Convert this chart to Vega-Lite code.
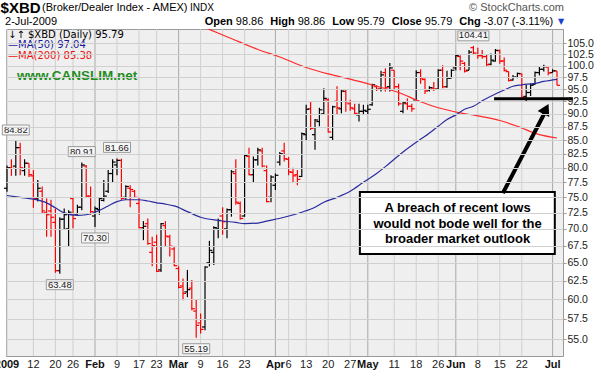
{
  "$schema": "https://vega.github.io/schema/vega-lite/v6.json",
  "autosize": "none",
  "width": 557,
  "height": 327,
  "padding": {"left": 6, "top": 29, "right": 38, "bottom": 22},
  "background": "white",
  "config": {
    "view": {"fill": "#efefef", "stroke": "#999999", "strokeWidth": 1},
    "text": {"font": "Liberation Sans"},
    "axis": {"domain": false, "labelFlush": false, "labelBound": false, "labelFont": "Liberation Sans", "labelColor": "#222222"},
    "axisX": {"ticks": false, "labels": false, "grid": false},
    "axisY": {"grid": true, "gridColor": "#d0d0d0", "zindex": 1, "ticks": true, "tickSize": 3, "tickColor": "#999999", "labelFontSize": 10.5, "labelPadding": 1}
  },
  "datasets": {
    "gx": [{"i":0},{"i":6},{"i":11},{"i":15},{"i":25},{"i":30},{"i":34},{"i":44},{"i":49},{"i":54},{"i":64},{"i":68},{"i":73},{"i":78},{"i":88},{"i":93},{"i":98},{"i":107},{"i":112},{"i":117}],
    "gm": [{"i":20},{"i":39},{"i":61},{"i":82},{"i":102},{"i":124}],
    "xlr": [
      {"i":6,"t":"12"},{"i":11,"t":"20"},{"i":15,"t":"26"},{"i":25,"t":"9"},{"i":30,"t":"17"},{"i":34,"t":"23"},
      {"i":44,"t":"9"},{"i":49,"t":"16"},{"i":54,"t":"23"},{"i":64,"t":"6"},{"i":68,"t":"13"},{"i":73,"t":"20"},
      {"i":78,"t":"27"},{"i":88,"t":"11"},{"i":93,"t":"18"},{"i":98,"t":"26"},{"i":107,"t":"8"},{"i":112,"t":"15"},{"i":117,"t":"22"}
    ],
    "xlb": [
      {"i":0,"t":"2009"},{"i":20,"t":"Feb"},{"i":39,"t":"Mar"},{"i":61,"t":"Apr"},{"i":82,"t":"May"},{"i":102,"t":"Jun"},{"i":124,"t":"Jul"}
    ],
    "ohlc": [
      {"i":0,"o":76.5,"h":80.4,"l":75.9,"c":80.0,"dir":"up"},
      {"i":1,"o":80.0,"h":81.5,"l":78.6,"c":79.9,"dir":"down"},
      {"i":2,"o":80.3,"h":84.82,"l":78.6,"c":83.6,"dir":"up"},
      {"i":3,"o":83.6,"h":84.5,"l":78.7,"c":80.0,"dir":"down"},
      {"i":4,"o":79.5,"h":81.5,"l":78.6,"c":80.8,"dir":"up"},
      {"i":5,"o":80.8,"h":80.8,"l":78.4,"c":78.8,"dir":"down"},
      {"i":6,"o":78.6,"h":79.6,"l":73.3,"c":74.8,"dir":"down"},
      {"i":7,"o":74.8,"h":77.9,"l":74.3,"c":76.5,"dir":"up"},
      {"i":8,"o":76.0,"h":76.8,"l":72.3,"c":72.8,"dir":"down"},
      {"i":9,"o":72.5,"h":74.8,"l":68.8,"c":72.2,"dir":"down"},
      {"i":10,"o":72.8,"h":74.6,"l":68.8,"c":71.8,"dir":"down"},
      {"i":11,"o":71.0,"h":73.2,"l":63.6,"c":63.9,"dir":"down"},
      {"i":12,"o":63.9,"h":71.8,"l":63.48,"c":71.5,"dir":"up"},
      {"i":13,"o":71.5,"h":73.2,"l":70.0,"c":72.2,"dir":"up"},
      {"i":14,"o":70.0,"h":72.9,"l":67.3,"c":72.6,"dir":"up"},
      {"i":15,"o":74.8,"h":75.0,"l":70.1,"c":71.6,"dir":"down"},
      {"i":16,"o":72.3,"h":73.8,"l":72.2,"c":73.4,"dir":"up"},
      {"i":17,"o":73.4,"h":80.91,"l":72.9,"c":80.5,"dir":"up"},
      {"i":18,"o":80.3,"h":80.5,"l":75.0,"c":75.2,"dir":"down"},
      {"i":19,"o":75.2,"h":76.8,"l":72.2,"c":72.7,"dir":"down"},
      {"i":20,"o":72.0,"h":73.5,"l":70.3,"c":73.2,"dir":"up"},
      {"i":21,"o":73.0,"h":75.0,"l":72.2,"c":74.8,"dir":"up"},
      {"i":22,"o":74.5,"h":77.9,"l":74.3,"c":75.2,"dir":"up"},
      {"i":23,"o":76.0,"h":79.6,"l":75.7,"c":79.0,"dir":"up"},
      {"i":24,"o":79.0,"h":81.5,"l":77.5,"c":81.0,"dir":"up"},
      {"i":25,"o":80.5,"h":81.66,"l":78.7,"c":81.3,"dir":"up"},
      {"i":26,"o":81.3,"h":81.6,"l":74.6,"c":74.8,"dir":"down"},
      {"i":27,"o":75.0,"h":77.0,"l":74.6,"c":76.8,"dir":"up"},
      {"i":28,"o":76.5,"h":77.0,"l":73.4,"c":76.3,"dir":"down"},
      {"i":29,"o":76.0,"h":76.2,"l":74.9,"c":75.0,"dir":"down"},
      {"i":30,"o":74.0,"h":75.0,"l":70.1,"c":70.2,"dir":"down"},
      {"i":31,"o":70.2,"h":71.2,"l":68.3,"c":70.4,"dir":"up"},
      {"i":32,"o":70.8,"h":71.6,"l":67.6,"c":67.8,"dir":"down"},
      {"i":33,"o":66.5,"h":68.8,"l":64.5,"c":67.5,"dir":"down"},
      {"i":34,"o":68.0,"h":69.1,"l":63.7,"c":63.8,"dir":"down"},
      {"i":35,"o":64.0,"h":70.9,"l":63.7,"c":70.8,"dir":"up"},
      {"i":36,"o":70.5,"h":71.2,"l":67.4,"c":68.9,"dir":"down"},
      {"i":37,"o":68.8,"h":69.1,"l":65.9,"c":67.4,"dir":"down"},
      {"i":38,"o":67.0,"h":67.4,"l":64.5,"c":64.6,"dir":"down"},
      {"i":39,"o":64.2,"h":64.5,"l":61.5,"c":61.6,"dir":"down"},
      {"i":40,"o":61.8,"h":62.8,"l":59.9,"c":60.8,"dir":"down"},
      {"i":41,"o":61.0,"h":64.0,"l":60.3,"c":61.3,"dir":"up"},
      {"i":42,"o":61.5,"h":62.6,"l":58.6,"c":58.8,"dir":"down"},
      {"i":43,"o":58.5,"h":60.0,"l":55.19,"c":56.7,"dir":"down"},
      {"i":44,"o":57.0,"h":58.2,"l":55.7,"c":56.2,"dir":"down"},
      {"i":45,"o":56.5,"h":64.5,"l":56.1,"c":64.4,"dir":"up"},
      {"i":46,"o":65.0,"h":68.2,"l":64.5,"c":66.8,"dir":"up"},
      {"i":47,"o":66.5,"h":70.4,"l":64.7,"c":70.2,"dir":"up"},
      {"i":48,"o":70.0,"h":71.6,"l":68.6,"c":71.3,"dir":"up"},
      {"i":49,"o":72.0,"h":73.4,"l":69.1,"c":71.1,"dir":"down"},
      {"i":50,"o":70.0,"h":73.2,"l":68.6,"c":73.0,"dir":"up"},
      {"i":51,"o":73.0,"h":79.6,"l":71.9,"c":79.3,"dir":"up"},
      {"i":52,"o":79.0,"h":81.5,"l":73.8,"c":74.2,"dir":"down"},
      {"i":53,"o":74.0,"h":74.3,"l":71.4,"c":71.6,"dir":"down"},
      {"i":54,"o":72.0,"h":82.4,"l":71.9,"c":82.2,"dir":"up"},
      {"i":55,"o":82.0,"h":83.6,"l":78.7,"c":78.8,"dir":"down"},
      {"i":56,"o":78.8,"h":82.0,"l":77.5,"c":81.4,"dir":"up"},
      {"i":57,"o":81.4,"h":83.6,"l":80.4,"c":83.2,"dir":"up"},
      {"i":58,"o":83.0,"h":83.6,"l":80.1,"c":80.3,"dir":"down"},
      {"i":59,"o":79.5,"h":80.4,"l":74.2,"c":74.3,"dir":"down"},
      {"i":60,"o":75.0,"h":78.7,"l":74.2,"c":78.4,"dir":"up"},
      {"i":61,"o":77.0,"h":79.0,"l":76.2,"c":78.7,"dir":"up"},
      {"i":62,"o":81.0,"h":82.8,"l":80.4,"c":82.5,"dir":"up"},
      {"i":63,"o":83.0,"h":84.5,"l":81.1,"c":81.6,"dir":"down"},
      {"i":64,"o":81.5,"h":81.9,"l":78.7,"c":79.3,"dir":"down"},
      {"i":65,"o":79.2,"h":80.0,"l":77.5,"c":78.6,"dir":"down"},
      {"i":66,"o":78.8,"h":79.6,"l":77.0,"c":78.0,"dir":"down"},
      {"i":67,"o":78.5,"h":86.4,"l":78.4,"c":86.2,"dir":"up"},
      {"i":68,"o":86.0,"h":91.8,"l":84.8,"c":90.9,"dir":"up"},
      {"i":69,"o":91.0,"h":92.4,"l":86.9,"c":87.2,"dir":"down"},
      {"i":70,"o":86.0,"h":89.0,"l":83.2,"c":88.8,"dir":"up"},
      {"i":71,"o":88.5,"h":91.2,"l":87.6,"c":90.8,"dir":"up"},
      {"i":72,"o":90.0,"h":95.2,"l":89.8,"c":93.1,"dir":"up"},
      {"i":73,"o":92.8,"h":93.1,"l":86.4,"c":86.5,"dir":"down"},
      {"i":74,"o":85.5,"h":91.6,"l":85.0,"c":91.4,"dir":"up"},
      {"i":75,"o":92.5,"h":95.6,"l":89.8,"c":91.2,"dir":"down"},
      {"i":76,"o":91.0,"h":94.8,"l":90.1,"c":94.6,"dir":"up"},
      {"i":77,"o":94.5,"h":94.8,"l":90.4,"c":92.4,"dir":"down"},
      {"i":78,"o":92.0,"h":92.8,"l":90.6,"c":91.2,"dir":"down"},
      {"i":79,"o":91.0,"h":92.0,"l":89.8,"c":90.1,"dir":"down"},
      {"i":80,"o":89.8,"h":92.0,"l":88.5,"c":90.5,"dir":"up"},
      {"i":81,"o":90.5,"h":91.8,"l":89.8,"c":90.7,"dir":"up"},
      {"i":82,"o":90.5,"h":91.8,"l":89.9,"c":90.9,"dir":"up"},
      {"i":83,"o":91.8,"h":96.1,"l":91.6,"c":95.9,"dir":"up"},
      {"i":84,"o":95.5,"h":95.8,"l":94.6,"c":95.0,"dir":"down"},
      {"i":85,"o":95.0,"h":98.9,"l":94.5,"c":98.0,"dir":"up"},
      {"i":86,"o":98.5,"h":99.4,"l":94.5,"c":95.3,"dir":"down"},
      {"i":87,"o":95.5,"h":100.6,"l":94.5,"c":99.5,"dir":"up"},
      {"i":88,"o":99.0,"h":99.0,"l":95.0,"c":95.5,"dir":"down"},
      {"i":89,"o":95.5,"h":96.1,"l":91.6,"c":92.0,"dir":"down"},
      {"i":90,"o":90.5,"h":92.3,"l":90.1,"c":92.2,"dir":"up"},
      {"i":91,"o":92.0,"h":93.1,"l":90.8,"c":91.5,"dir":"down"},
      {"i":92,"o":91.5,"h":92.0,"l":90.4,"c":91.0,"dir":"down"},
      {"i":93,"o":92.8,"h":99.0,"l":92.8,"c":98.5,"dir":"up"},
      {"i":94,"o":98.5,"h":99.2,"l":96.1,"c":97.3,"dir":"down"},
      {"i":95,"o":97.0,"h":97.3,"l":94.0,"c":94.6,"dir":"down"},
      {"i":96,"o":94.8,"h":95.6,"l":94.5,"c":95.3,"dir":"up"},
      {"i":97,"o":95.2,"h":96.5,"l":94.6,"c":95.0,"dir":"down"},
      {"i":98,"o":95.0,"h":99.2,"l":94.9,"c":99.0,"dir":"up"},
      {"i":99,"o":99.0,"h":100.1,"l":95.2,"c":95.5,"dir":"down"},
      {"i":100,"o":95.5,"h":98.9,"l":95.3,"c":97.3,"dir":"up"},
      {"i":101,"o":97.3,"h":99.2,"l":97.3,"c":99.0,"dir":"up"},
      {"i":102,"o":99.5,"h":102.5,"l":99.0,"c":102.2,"dir":"up"},
      {"i":103,"o":102.0,"h":102.3,"l":99.0,"c":101.0,"dir":"down"},
      {"i":104,"o":100.5,"h":100.8,"l":98.5,"c":98.8,"dir":"down"},
      {"i":105,"o":99.0,"h":103.5,"l":99.0,"c":103.0,"dir":"up"},
      {"i":106,"o":104.0,"h":104.41,"l":102.4,"c":102.8,"dir":"down"},
      {"i":107,"o":102.5,"h":104.0,"l":101.5,"c":102.2,"dir":"down"},
      {"i":108,"o":102.2,"h":103.5,"l":101.5,"c":102.0,"dir":"down"},
      {"i":109,"o":102.0,"h":102.4,"l":99.7,"c":100.2,"dir":"down"},
      {"i":110,"o":100.3,"h":102.7,"l":100.1,"c":101.2,"dir":"up"},
      {"i":111,"o":101.0,"h":103.7,"l":100.9,"c":103.4,"dir":"up"},
      {"i":112,"o":103.3,"h":103.6,"l":100.4,"c":101.0,"dir":"down"},
      {"i":113,"o":101.0,"h":101.8,"l":98.7,"c":99.0,"dir":"down"},
      {"i":114,"o":98.7,"h":98.7,"l":96.6,"c":96.8,"dir":"down"},
      {"i":115,"o":96.9,"h":98.0,"l":96.8,"c":97.5,"dir":"up"},
      {"i":116,"o":97.5,"h":98.5,"l":97.3,"c":98.3,"dir":"up"},
      {"i":117,"o":98.2,"h":98.3,"l":92.9,"c":93.3,"dir":"down"},
      {"i":118,"o":93.5,"h":95.9,"l":92.4,"c":94.3,"dir":"up"},
      {"i":119,"o":94.3,"h":96.2,"l":93.6,"c":95.8,"dir":"up"},
      {"i":120,"o":96.0,"h":98.7,"l":95.9,"c":98.5,"dir":"up"},
      {"i":121,"o":98.5,"h":99.7,"l":97.9,"c":99.2,"dir":"up"},
      {"i":122,"o":99.2,"h":100.2,"l":98.7,"c":99.8,"dir":"up"},
      {"i":123,"o":99.7,"h":99.9,"l":97.9,"c":98.4,"dir":"down"},
      {"i":124,"o":98.5,"h":99.2,"l":98.5,"c":98.86,"dir":"up"},
      {"i":125,"o":98.86,"h":98.86,"l":95.79,"c":95.79,"dir":"down"}
    ],
    "ma50": [
      {"i":0,"v":75.3},{"i":3,"v":75.0},{"i":6,"v":74.7},{"i":9,"v":74.1},{"i":11,"v":73.3},
      {"i":13,"v":72.5},{"i":16,"v":72.1},{"i":18,"v":72.2},{"i":20,"v":72.6},{"i":23,"v":73.6},
      {"i":25,"v":74.3},{"i":27,"v":74.6},{"i":30,"v":74.6},{"i":32,"v":74.4},{"i":34,"v":74.1},
      {"i":36,"v":73.9},{"i":38,"v":73.6},{"i":41,"v":72.7},{"i":44,"v":71.8},{"i":48,"v":71.3},
      {"i":52,"v":71.0},{"i":54,"v":70.8},{"i":57,"v":70.9},{"i":59,"v":71.2},{"i":63,"v":71.8},
      {"i":67,"v":72.6},{"i":70,"v":73.4},{"i":72,"v":74.2},{"i":75,"v":75.0},{"i":78,"v":76.0},
      {"i":81,"v":77.5},{"i":84,"v":79.0},{"i":86,"v":80.2},{"i":88,"v":81.5},{"i":90,"v":82.8},
      {"i":93,"v":84.6},{"i":95,"v":85.7},{"i":98,"v":87.6},{"i":100,"v":88.9},{"i":102,"v":89.8},
      {"i":104,"v":90.9},{"i":106,"v":91.5},{"i":108,"v":92.6},{"i":111,"v":94.0},{"i":113,"v":94.8},
      {"i":115,"v":95.6},{"i":117,"v":95.9},{"i":120,"v":96.2},{"i":122,"v":96.6},{"i":125,"v":97.04}
    ],
    "ma200": [
      {"i":38,"v":112.5},{"i":45,"v":108.7},{"i":51,"v":106.1},{"i":57,"v":103.6},{"i":62,"v":101.9},
      {"i":68,"v":99.6},{"i":73,"v":98.2},{"i":78,"v":97.1},{"i":84,"v":95.6},{"i":89,"v":94.3},
      {"i":94,"v":92.4},{"i":98,"v":91.2},{"i":103,"v":90.2},{"i":107,"v":89.6},{"i":112,"v":88.7},
      {"i":116,"v":87.6},{"i":121,"v":86.0},{"i":125,"v":85.38}
    ],
    "lbl": [
      {"i":2,"v":84.82,"t":"84.82","pos":"hi"},
      {"i":17,"v":80.91,"t":"80.91","pos":"hi"},
      {"i":25,"v":81.66,"t":"81.66","pos":"hi"},
      {"i":106,"v":104.41,"t":"104.41","pos":"hi6"},
      {"i":12,"v":63.48,"t":"63.48","pos":"lo"},
      {"i":20,"v":70.3,"t":"70.30","pos":"lo"},
      {"i":43,"v":55.19,"t":"55.19","pos":"lo"}
    ],
    "box": [{"i1":80.2,"i2":124.5,"v1":75.87,"v2":66.27}],
    "arrow": [{"i1":112.7,"v1":75.7,"i2":122.3,"v2":90.36}],
    "tip": [{"i":122.5,"v":90.96}],
    "hline": [{"i1":110.7,"i2":128.6,"v":93.0}],
    "txt": [
      {"k":"big","t":"$XBD","i":-1.45,"v":113.4},
      {"k":"hdr","t":"(Broker/Dealer Index - AMEX)","i":7.95,"v":113.4},
      {"k":"indx","t":"INDX","i":41.6,"v":113.4},
      {"k":"sc","t":"© StockCharts.com","i":126.6,"v":113.4},
      {"k":"reg","t":"2-Jul-2009","i":-0.45,"v":110.1},
      {"k":"bold","t":"Open","i":44.93,"v":110.1},
      {"k":"reg","t":"98.86","i":52.0,"v":110.1},
      {"k":"bold","t":"High","i":59.84,"v":110.1},
      {"k":"reg","t":"98.86","i":66.07,"v":110.1},
      {"k":"bold","t":"Low","i":73.91,"v":110.1},
      {"k":"reg","t":"95.79","i":79.59,"v":110.1},
      {"k":"bold","t":"Close","i":87.43,"v":110.1},
      {"k":"reg","t":"95.79","i":94.95,"v":110.1},
      {"k":"bold","t":"Chg","i":102.8,"v":110.1},
      {"k":"reg","t":"-3.07 (-3.11%)","i":108.34,"v":110.1},
      {"k":"tri","t":"▼","i":125.9,"v":110.1},
      {"k":"leg","t":"↓↑ $XBD (Daily) 95.79","i":0.23,"v":106.9},
      {"k":"m50","t":"—MA(50) 97.04","i":0.23,"v":104.5},
      {"k":"m200","t":"—MA(200) 85.38","i":0.23,"v":102.1},
      {"k":"net","t":"www.CANSLIM.net","i":2.27,"v":97.76},
      {"k":"call","t":"A breach of recent lows","i":102.4,"v":73.27},
      {"k":"call","t":"would not bode well for the","i":102.4,"v":70.83},
      {"k":"call","t":"broader market outlook","i":102.4,"v":68.47}
    ]
  },
  "layer": [
    {
      "data": {"name": "gx"},
      "mark": {"type": "tick", "orient": "vertical", "size": 327, "thickness": 1, "color": "#d0d0d0", "opacity": 1},
      "encoding": {
        "x": {"field": "i", "type": "quantitative"},
        "y": {"datum": 75.8, "type": "quantitative"}
      }
    },
    {
      "data": {"name": "gm"},
      "mark": {"type": "tick", "orient": "vertical", "size": 327, "thickness": 1, "color": "#a9a9a9", "opacity": 1},
      "encoding": {
        "x": {"field": "i", "type": "quantitative"},
        "y": {"datum": 75.8, "type": "quantitative"}
      }
    },
    {
      "data": {"name": "ohlc"},
      "mark": {"type": "rule", "strokeWidth": 1.2},
      "encoding": {
        "x": {"field": "i", "type": "quantitative",
          "scale": {"domain": [-0.2273, 126.3636], "nice": false, "zero": false},
          "axis": {"title": null, "domain": false, "ticks": false, "grid": false, "labels": false}
        },
        "y": {"field": "h", "type": "quantitative",
          "scale": {"type": "log", "domain": [53.03, 108.33], "nice": false, "zero": false},
          "axis": {
            "title": null, "orient": "right", "grid": true, "zindex": 1, "gridColor": "#d0d0d0",
            "values": [55,57.5,60,62.5,65,67.5,70,72.5,75,77.5,80,82.5,85,87.5,90,92.5,95,97.5,100,102.5,105],
            "format": ".1f"
          }
        },
        "y2": {"field": "l"},
        "color": {"field": "dir", "type": "nominal", "scale": {"domain": ["up", "down"], "range": ["#000000", "#ff0000"]}, "legend": null}
      }
    },
    {
      "data": {"name": "ohlc"},
      "mark": {"type": "tick", "orient": "horizontal", "size": 3, "thickness": 1.2, "xOffset": -1.5, "opacity": 1},
      "encoding": {
        "x": {"field": "i", "type": "quantitative"},
        "y": {"field": "o", "type": "quantitative"},
        "color": {"field": "dir", "type": "nominal", "legend": null}
      }
    },
    {
      "data": {"name": "ohlc"},
      "mark": {"type": "tick", "orient": "horizontal", "size": 3, "thickness": 1.2, "xOffset": 1.5, "opacity": 1},
      "encoding": {
        "x": {"field": "i", "type": "quantitative"},
        "y": {"field": "c", "type": "quantitative"},
        "color": {"field": "dir", "type": "nominal", "legend": null}
      }
    },
    {
      "data": {"name": "ma200"},
      "mark": {"type": "line", "color": "#ff2a2a", "strokeWidth": 1.2, "clip": true, "interpolate": "monotone"},
      "encoding": {
        "x": {"field": "i", "type": "quantitative"},
        "y": {"field": "v", "type": "quantitative"}
      }
    },
    {
      "data": {"name": "ma50"},
      "mark": {"type": "line", "color": "#2b2ba0", "strokeWidth": 1.2, "clip": true, "interpolate": "monotone"},
      "encoding": {
        "x": {"field": "i", "type": "quantitative"},
        "y": {"field": "v", "type": "quantitative"}
      }
    },
    {
      "data": {"name": "xlr"},
      "mark": {"type": "text", "font": "Liberation Sans", "fontSize": 11, "color": "#222222", "align": "center", "baseline": "middle"},
      "encoding": {
        "x": {"field": "i", "type": "quantitative"},
        "y": {"datum": 51.99, "type": "quantitative"},
        "text": {"field": "t", "type": "nominal"}
      }
    },
    {
      "data": {"name": "xlb"},
      "mark": {"type": "text", "font": "Liberation Sans", "fontSize": 11, "fontWeight": "bold", "color": "#111111", "align": "center", "baseline": "middle"},
      "encoding": {
        "x": {"field": "i", "type": "quantitative"},
        "y": {"datum": 51.99, "type": "quantitative"},
        "text": {"field": "t", "type": "nominal"}
      }
    },
    {
      "data": {"name": "lbl"},
      "transform": [{"filter": "datum.pos == 'hi'"}],
      "mark": {"type": "point", "shape": "M-1,-0.37L1,-0.37L1,0.37L-1,0.37Z", "size": 729, "filled": true, "fill": "#f6f6f6", "stroke": "#9a9a9a", "strokeWidth": 1, "opacity": 1, "yOffset": -11},
      "encoding": {
        "x": {"field": "i", "type": "quantitative"},
        "y": {"field": "v", "type": "quantitative"}
      }
    },
    {
      "data": {"name": "lbl"},
      "transform": [{"filter": "datum.pos == 'hi6'"}],
      "mark": {"type": "point", "shape": "M-1,-0.32L1,-0.32L1,0.32L-1,0.32Z", "size": 961, "filled": true, "fill": "#f6f6f6", "stroke": "#9a9a9a", "strokeWidth": 1, "opacity": 1, "yOffset": -10},
      "encoding": {
        "x": {"field": "i", "type": "quantitative"},
        "y": {"field": "v", "type": "quantitative"}
      }
    },
    {
      "data": {"name": "lbl"},
      "transform": [{"filter": "datum.pos == 'lo'"}],
      "mark": {"type": "point", "shape": "M-1,-0.37L1,-0.37L1,0.37L-1,0.37Z", "size": 729, "filled": true, "fill": "#f6f6f6", "stroke": "#9a9a9a", "strokeWidth": 1, "opacity": 1, "yOffset": 11},
      "encoding": {
        "x": {"field": "i", "type": "quantitative"},
        "y": {"field": "v", "type": "quantitative"}
      }
    },
    {
      "data": {"name": "lbl"},
      "transform": [{"filter": "datum.pos != 'lo'"}],
      "mark": {"type": "text", "font": "Liberation Sans", "fontSize": 9.5, "color": "#222222", "baseline": "middle", "align": "center", "yOffset": -10.5},
      "encoding": {
        "x": {"field": "i", "type": "quantitative"},
        "y": {"field": "v", "type": "quantitative"},
        "text": {"field": "t", "type": "nominal"}
      }
    },
    {
      "data": {"name": "lbl"},
      "transform": [{"filter": "datum.pos == 'lo'"}],
      "mark": {"type": "text", "font": "Liberation Sans", "fontSize": 9.5, "color": "#222222", "baseline": "middle", "align": "center", "yOffset": 11},
      "encoding": {
        "x": {"field": "i", "type": "quantitative"},
        "y": {"field": "v", "type": "quantitative"},
        "text": {"field": "t", "type": "nominal"}
      }
    },
    {
      "data": {"name": "hline"},
      "mark": {"type": "rule", "color": "#000000", "strokeWidth": 3, "clip": false},
      "encoding": {
        "x": {"field": "i1", "type": "quantitative"},
        "x2": {"field": "i2"},
        "y": {"field": "v", "type": "quantitative"}
      }
    },
    {
      "data": {"name": "box"},
      "mark": {"type": "rect", "fill": "#ffffff", "stroke": "#000000", "strokeWidth": 2},
      "encoding": {
        "x": {"field": "i1", "type": "quantitative"},
        "x2": {"field": "i2"},
        "y": {"field": "v1", "type": "quantitative"},
        "y2": {"field": "v2"}
      }
    },
    {
      "data": {"name": "arrow"},
      "mark": {"type": "rule", "color": "#000000", "strokeWidth": 4},
      "encoding": {
        "x": {"field": "i1", "type": "quantitative"},
        "x2": {"field": "i2"},
        "y": {"field": "v1", "type": "quantitative"},
        "y2": {"field": "v2"}
      }
    },
    {
      "data": {"name": "tip"},
      "mark": {"type": "point", "shape": "triangle-up", "size": 170, "filled": true, "color": "#000000", "opacity": 1, "angle": 27},
      "encoding": {
        "x": {"field": "i", "type": "quantitative"},
        "y": {"field": "v", "type": "quantitative"}
      }
    },
    {
      "data": {"name": "txt"},
      "transform": [{"filter": "datum.k == 'big'"}],
      "mark": {"type": "text", "font": "Liberation Sans", "fontSize": 15, "fontWeight": "bold", "color": "#000000", "align": "left", "baseline": "middle"},
      "encoding": {"x": {"field": "i", "type": "quantitative"}, "y": {"field": "v", "type": "quantitative"}, "text": {"field": "t", "type": "nominal"}}
    },
    {
      "data": {"name": "txt"},
      "transform": [{"filter": "datum.k == 'hdr'"}],
      "mark": {"type": "text", "font": "Liberation Sans", "fontSize": 11, "color": "#000000", "align": "left", "baseline": "middle"},
      "encoding": {"x": {"field": "i", "type": "quantitative"}, "y": {"field": "v", "type": "quantitative"}, "text": {"field": "t", "type": "nominal"}}
    },
    {
      "data": {"name": "txt"},
      "transform": [{"filter": "datum.k == 'indx'"}],
      "mark": {"type": "text", "font": "Liberation Sans", "fontSize": 10, "color": "#000000", "align": "left", "baseline": "middle"},
      "encoding": {"x": {"field": "i", "type": "quantitative"}, "y": {"field": "v", "type": "quantitative"}, "text": {"field": "t", "type": "nominal"}}
    },
    {
      "data": {"name": "txt"},
      "transform": [{"filter": "datum.k == 'sc'"}],
      "mark": {"type": "text", "font": "Liberation Sans", "fontSize": 11, "color": "#555555", "align": "right", "baseline": "middle"},
      "encoding": {"x": {"field": "i", "type": "quantitative"}, "y": {"field": "v", "type": "quantitative"}, "text": {"field": "t", "type": "nominal"}}
    },
    {
      "data": {"name": "txt"},
      "transform": [{"filter": "datum.k == 'reg'"}],
      "mark": {"type": "text", "font": "Liberation Sans", "fontSize": 11, "color": "#000000", "align": "left", "baseline": "middle"},
      "encoding": {"x": {"field": "i", "type": "quantitative"}, "y": {"field": "v", "type": "quantitative"}, "text": {"field": "t", "type": "nominal"}}
    },
    {
      "data": {"name": "txt"},
      "transform": [{"filter": "datum.k == 'bold'"}],
      "mark": {"type": "text", "font": "Liberation Sans", "fontSize": 11, "fontWeight": "bold", "color": "#000000", "align": "left", "baseline": "middle"},
      "encoding": {"x": {"field": "i", "type": "quantitative"}, "y": {"field": "v", "type": "quantitative"}, "text": {"field": "t", "type": "nominal"}}
    },
    {
      "data": {"name": "txt"},
      "transform": [{"filter": "datum.k == 'tri'"}],
      "mark": {"type": "text", "font": "DejaVu Sans", "fontSize": 8, "color": "#1a3fd6", "align": "center", "baseline": "middle"},
      "encoding": {"x": {"field": "i", "type": "quantitative"}, "y": {"field": "v", "type": "quantitative"}, "text": {"field": "t", "type": "nominal"}}
    },
    {
      "data": {"name": "txt"},
      "transform": [{"filter": "datum.k == 'leg'"}],
      "mark": {"type": "text", "font": "DejaVu Sans", "fontSize": 10, "color": "#000000", "align": "left", "baseline": "middle"},
      "encoding": {"x": {"field": "i", "type": "quantitative"}, "y": {"field": "v", "type": "quantitative"}, "text": {"field": "t", "type": "nominal"}}
    },
    {
      "data": {"name": "txt"},
      "transform": [{"filter": "datum.k == 'm50'"}],
      "mark": {"type": "text", "font": "DejaVu Sans", "fontSize": 10, "color": "#1a1a9c", "align": "left", "baseline": "middle"},
      "encoding": {"x": {"field": "i", "type": "quantitative"}, "y": {"field": "v", "type": "quantitative"}, "text": {"field": "t", "type": "nominal"}}
    },
    {
      "data": {"name": "txt"},
      "transform": [{"filter": "datum.k == 'm200'"}],
      "mark": {"type": "text", "font": "DejaVu Sans", "fontSize": 10, "color": "#ee1111", "align": "left", "baseline": "middle"},
      "encoding": {"x": {"field": "i", "type": "quantitative"}, "y": {"field": "v", "type": "quantitative"}, "text": {"field": "t", "type": "nominal"}}
    },
    {
      "data": {"name": "txt"},
      "transform": [{"filter": "datum.k == 'net'"}],
      "mark": {"type": "text", "font": "Liberation Sans", "fontSize": 13.5, "fontWeight": "bold", "color": "#1e8c1e", "align": "left", "baseline": "middle"},
      "encoding": {"x": {"field": "i", "type": "quantitative"}, "y": {"field": "v", "type": "quantitative"}, "text": {"field": "t", "type": "nominal"}}
    },
    {
      "data": {"name": "txt"},
      "transform": [{"filter": "datum.k == 'call'"}],
      "mark": {"type": "text", "font": "Liberation Sans", "fontSize": 13, "fontWeight": "bold", "color": "#000000", "align": "center", "baseline": "middle"},
      "encoding": {"x": {"field": "i", "type": "quantitative"}, "y": {"field": "v", "type": "quantitative"}, "text": {"field": "t", "type": "nominal"}}
    }
  ]
}
